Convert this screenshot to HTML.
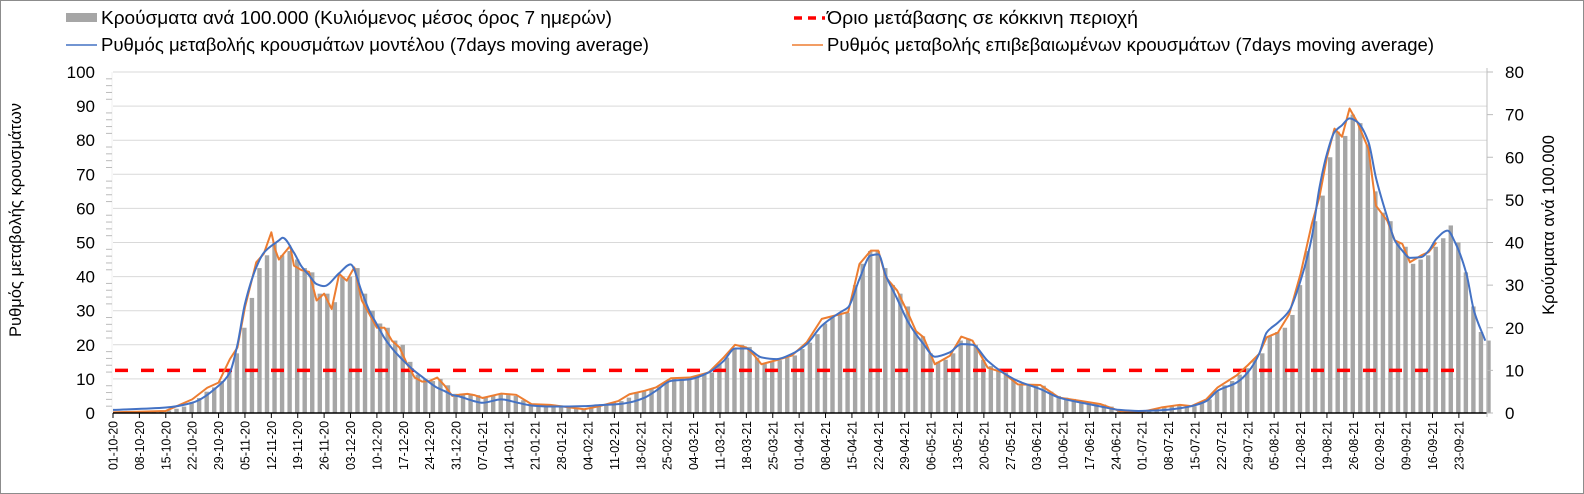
<!DOCTYPE html>
<html><head><meta charset="utf-8">
<style>
html,body{margin:0;padding:0;background:#fff;}
body{width:1584px;height:494px;overflow:hidden;position:relative;font-family:"Liberation Sans","Noto Sans CJK SC",sans-serif;}
#frame{position:absolute;left:0;top:0;width:1582px;height:492px;border:1px solid #8c8c8c;}
svg{position:absolute;left:0;top:0;}
</style></head>
<body>
<div id="frame"></div>
<svg id="chart" width="1584" height="494"></svg>
<script>
// ---- data ----
const tickLabels = ["01-10-20","08-10-20","15-10-20","22-10-20","29-10-20","05-11-20","12-11-20","19-11-20","26-11-20","03-12-20","10-12-20","17-12-20","24-12-20","31-12-20","07-01-21","14-01-21","21-01-21","28-01-21","04-02-21","11-02-21","18-02-21","25-02-21","04-03-21","11-03-21","18-03-21","25-03-21","01-04-21","08-04-21","15-04-21","22-04-21","29-04-21","06-05-21","13-05-21","20-05-21","27-05-21","03-06-21","10-06-21","17-06-21","24-06-21","01-07-21","08-07-21","15-07-21","22-07-21","29-07-21","05-08-21","12-08-21","19-08-21","26-08-21","02-09-21","09-09-21","16-09-21","23-09-21"];
const leftTicks = [0,10,20,30,40,50,60,70,80,90,100];
const rightTicks = [0,10,20,30,40,50,60,70,80];
const redThreshold = 10; // right-axis units
// bars: cases per 100k (right axis), one value every 2 days starting day 0
const barValues = [0.3,0.3,0.3,0.4,0.4,0.5,0.6,0.6,1,1.5,2.5,3.5,5,6,7.5,10,14,20,27,34,37,40,37,38,36,34,33,28,28,26,32,32,34,28,24,21,20,17,16,12,9,8,7.5,8,6.5,4.5,4.3,4.5,4.2,3.8,4,4.5,4.2,4,3,2.2,2,2,2,1.8,1.5,1.2,1,1.3,1.6,2,2.5,2.8,3.6,4.8,5.2,5.6,6.2,7.5,8.2,8.3,8.3,8.5,9,9.5,11.5,13,15,16,15.5,13,11.5,12,12.4,13,13.5,15,16.5,18.5,21,22.5,23,23.5,30,35,38,38,34,30,28,25,19,18,14,12,12.5,14,17,17.5,16,12.5,11,10,9.5,8,6.8,6.8,6.6,6.4,5,4,3.6,3.3,2.8,2.6,2.3,2,1.5,0.8,0.5,0.3,0.2,0.6,1,1.3,1.6,1.9,1.8,1.6,2.5,3.2,5,6.5,7.5,9,10.5,12.5,14,18,19,20,23,30,38,45,51,60,66,65,70,68,63,52,47,45,40,39,35,36,37,39,41,44,40,33,25,19,17];
// model line (left axis)
const modelDays = [0,14,21,28,31,33,35,38,40,44,45,48,50,52,54,56,60,63,66,68,70,72,74,76,78,80,82,84,86,88,90,92,94,96,98,103,107,111,116,120,125,129,134,137,141,144,148,153,158,162,165,168,172,176,180,184,188,193,195,198,201,203,205,208,211,215,218,222,225,228,232,236,240,246,251,257,262,267,272,278,283,286,290,293,298,301,304,306,309,312,315,318,320,322,324,326,328,330,333,335,338,340,342,344,347,349,351,354,356,359,361,364];
const modelValues = [0.9,1.6,3,8,11.9,20,32,42.7,47,50.6,51.4,47,43,40.4,37.8,37.2,41,43.6,35.5,30,26,22,19,16.5,14.3,12.3,10.6,8.9,7.4,6.4,5.3,4.8,4.1,3.4,3,4,3.1,2.2,1.9,1.9,2,2.3,2.6,3.1,4.5,6.5,9.4,9.9,11.9,15.3,18.9,18.9,16.3,15.8,17.3,20.2,25.6,29.6,31,39.3,46.2,46.5,40.3,33.5,26.5,20.2,16.5,17.8,20.2,20,15.3,11.9,9.4,7,4.5,3,1.9,0.9,0.6,0.8,1.4,2,3.5,6.5,8.9,11.9,17.3,23.6,26.5,30,38.8,51.6,66,76,82.4,84.4,86.4,85.4,79.5,69,57.4,50.6,47.6,45.5,45.7,47.6,51,53.5,50,40.8,30,21.2];
// confirmed line (left axis)
const confDays = [0,14,21,25,28,31,33,35,38,40,42,43,44,47,48,50,52,54,56,58,60,62,64,66,68,70,72,74,76,78,80,82,84,86,88,90,92,94,96,98,103,107,111,116,120,125,129,134,137,141,144,148,153,158,162,165,168,170,172,176,180,184,188,193,195,198,201,203,205,208,211,213,215,218,222,225,228,232,236,240,246,251,257,262,267,272,278,283,286,290,293,298,301,304,306,309,312,315,318,320,322,324,326,328,330,333,335,338,340,342,344,347,349,351];
const confValues = [0.2,0.6,4,7.4,8.9,15.8,19.2,31,44.2,46.7,53,48,45,49,43.2,41.9,41.4,33,35,30.5,40.8,38.8,42.7,33,29,25,25,21.2,19.2,14.4,10.4,9.2,9.4,10.4,8,5,5.4,5.6,5.2,4.4,5.7,5.3,2.6,2.4,1.8,1.1,2,3.5,5.5,6.5,7.5,10.2,10.4,11.9,16.3,20,19.2,17,14.3,15.5,16.8,20.7,27.6,29,29.6,43.7,47.6,47.6,39.8,35.9,29,24,22.2,14.3,16.8,22.4,21.2,13.3,11.9,8.4,8.2,4.5,3.5,2.6,0.6,0.1,1.6,2.4,2,4,7.5,11,14,17.3,22.2,23.6,29,40.8,55.5,63.3,75,83.4,81,89.3,85.4,77.5,60.8,56.4,50.6,49.6,44.2,46.2,47.2,50];

// ---- geometry ----
const X0 = 113, DX = 3.77, Y0 = 413, YTOP = 72, X1 = 1487;
const xs = d => X0 + d * DX;
const yl = v => Y0 - v / 100 * (Y0 - YTOP);
const yr = v => Y0 - v / 80 * (Y0 - YTOP);
const NS = "http://www.w3.org/2000/svg";
const svg = document.getElementById('chart');
function mk(tag, attrs, parent) {
  const e = document.createElementNS(NS, tag);
  for (const k in attrs) e.setAttribute(k, attrs[k]);
  (parent || svg).appendChild(e);
  return e;
}

// gridlines
const grid = mk('g', {});


leftTicks.forEach(t => {
  if (t === 0) return;
  mk('line', {x1: X0, x2: X1, y1: yl(t), y2: yl(t), stroke: '#d9d9d9', 'stroke-width': 1}, grid);
});

// bars
const bars = mk('g', {});


barValues.forEach((v, i) => {
  const d = i * 2;
  const r = mk('rect', {x: xs(d) + 1, y: yr(v), width: 4.4, height: Y0 - yr(v), fill: '#a6a6a6'}, bars);
  
  
});

// threshold
const thr = mk('line', {x1: X0 + 2, x2: X1 - 25, y1: yr(redThreshold), y2: yr(redThreshold), stroke: '#ff0000', 'stroke-width': 3.5, 'stroke-dasharray': '13 13'});



// monotone cubic path through data points
function monoPath(pts) {
  const n = pts.length, dx = [], m = [], t = [];
  for (let i = 0; i < n - 1; i++) { dx[i] = pts[i+1][0] - pts[i][0]; m[i] = (pts[i+1][1] - pts[i][1]) / dx[i]; }
  t[0] = m[0]; t[n-1] = m[n-2];
  for (let i = 1; i < n - 1; i++) {
    if (m[i-1] * m[i] <= 0) t[i] = 0;
    else { const w1 = 2*dx[i] + dx[i-1], w2 = dx[i] + 2*dx[i-1]; t[i] = (w1 + w2) / (w1 / m[i-1] + w2 / m[i]); }
  }
  let s = `M${pts[0][0]},${pts[0][1]}`;
  for (let i = 0; i < n - 1; i++) {
    const h = dx[i] / 3;
    s += ` C${pts[i][0] + h},${pts[i][1] + t[i]*h} ${pts[i+1][0] - h},${pts[i+1][1] - t[i+1]*h} ${pts[i+1][0]},${pts[i+1][1]}`;
  }
  return s;
}
const confPts = confDays.map((d, i) => [xs(d), yl(confValues[i])]);
const conf = mk('path', {d: 'M' + confPts.map(p => p.join(',')).join(' L'), fill: 'none', stroke: '#ed7d31', 'stroke-width': 2, 'stroke-linejoin': 'round'});


const modelPts = modelDays.map((d, i) => [xs(d), yl(modelValues[i])]);
const model = mk('path', {d: monoPath(modelPts), fill: 'none', stroke: '#4472c4', 'stroke-width': 2});



// axes
const xaxis = mk('line', {x1: X0, x2: X1, y1: Y0, y2: Y0, stroke: '#000', 'stroke-width': 1.5});


mk('line', {x1: X1, x2: X1, y1: YTOP - 4, y2: Y0 + 4, stroke: '#bfbfbf', 'stroke-width': 1});
mk('line', {x1: X0 - 1, x2: X0 - 1, y1: YTOP, y2: Y0, stroke: '#f0f0f0', 'stroke-width': 1});

// x tick labels
const xl = mk('g', {});


tickLabels.forEach((lab, i) => {
  const x = xs(i * 7);
  mk('line', {x1: x, x2: x, y1: Y0, y2: Y0 + 5, stroke: '#000', 'stroke-width': 1}, xl);
  const t = mk('text', {transform: `translate(${x + 4.5},421) rotate(-90)`, 'text-anchor': 'end', 'font-size': 12.5, fill: '#000', textLength: 49, lengthAdjust: 'spacingAndGlyphs'}, xl);
  t.textContent = lab;
  
  
});

// left ticks
const ly = mk('g', {});


leftTicks.forEach(t => {
  const tx = mk('text', {x: 95, y: yl(t) + 6, 'text-anchor': 'end', 'font-size': 17, fill: '#000'}, ly);
  tx.textContent = t;
  
  
  if (t < 100) for (let k = 1; k <= 4; k++) {
    const yy = yl(t + k * 2);
    mk('line', {x1: 106, x2: 112, y1: yy, y2: yy, stroke: '#bbb', 'stroke-width': 1}, ly);
  }
});
const ry = mk('g', {});


rightTicks.forEach(t => {
  mk('line', {x1: X1, x2: X1 + 6, y1: yr(t), y2: yr(t), stroke: '#bbb', 'stroke-width': 1}, ry);
  const tx = mk('text', {x: 1505, y: yr(t) + 6, 'font-size': 17, fill: '#000'}, ry);
  tx.textContent = t;
  
  
});

// axis titles
const lt = mk('text', {transform: 'translate(21,220) rotate(-90)', 'text-anchor': 'middle', 'font-size': 16.5, fill: '#000'});
lt.textContent = 'Ρυθμός μεταβολής κρουσμάτων';


const rt = mk('text', {transform: 'translate(1554,225) rotate(-90)', 'text-anchor': 'middle', 'font-size': 16.5, fill: '#000'});
rt.textContent = 'Κρούσματα ανά 100.000';



// legend
function legend(name, x, y, label, kind, color, len) {
  const g = mk('g', {});
  
  
  if (kind === 'bar') mk('rect', {x: x, y: y - 11, width: 31, height: 9, fill: '#a6a6a6'}, g);
  else if (kind === 'dash') mk('line', {x1: x + 2, x2: x + 33, y1: y - 6, y2: y - 6, stroke: color, 'stroke-width': 3.5, 'stroke-dasharray': '8 6'}, g);
  else mk('line', {x1: x, x2: x + 31, y1: y - 6, y2: y - 6, stroke: color, 'stroke-width': 1.5}, g);
  const t = mk('text', {x: x + 35, y: y, 'font-size': 18.5, fill: '#000', textLength: len, lengthAdjust: 'spacingAndGlyphs'}, g);
  t.textContent = label;
}
legend('legend-cases-bars', 66, 24, 'Κρούσματα ανά 100.000 (Κυλιόμενος μέσος όρος 7 ημερών)', 'bar', null, 511);
legend('legend-red-threshold', 792, 24, 'Όριο μετάβασης σε κόκκινη περιοχή', 'dash', '#ff0000', 311);
legend('legend-model-line', 66, 51, 'Ρυθμός μεταβολής κρουσμάτων μοντέλου (7days moving average)', 'line', '#4472c4', 548);
legend('legend-confirmed-line', 792, 51, 'Ρυθμός μεταβολής επιβεβαιωμένων κρουσμάτων (7days moving average)', 'line', '#ed7d31', 607);
</script>
</body></html>
